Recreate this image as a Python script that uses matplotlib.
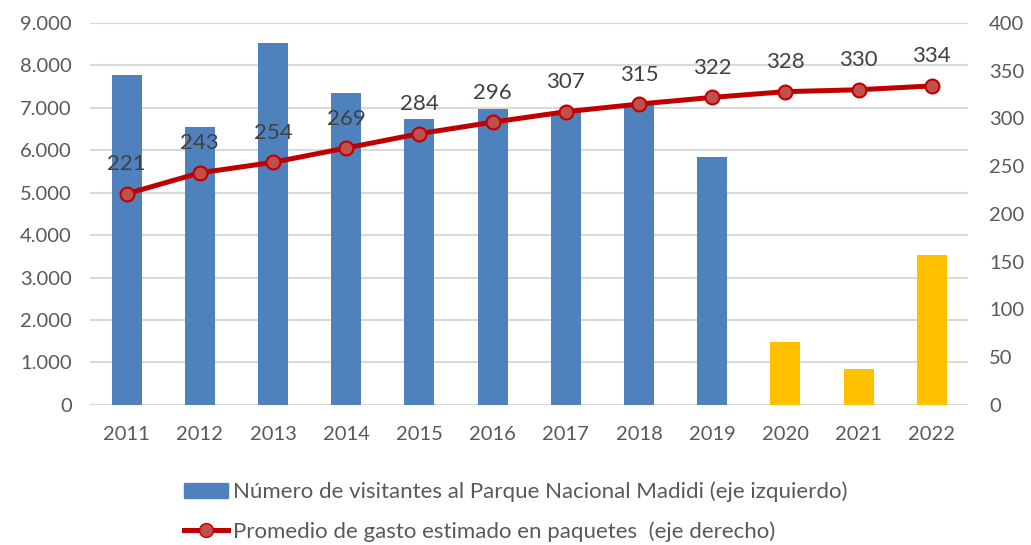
import numpy as np
import matplotlib
matplotlib.use('Agg')
import matplotlib.pyplot as plt
from matplotlib.patches import Patch
from matplotlib.lines import Line2D
from matplotlib.ticker import FuncFormatter

plt.rcParams['font.family'] = ['Lato', 'DejaVu Sans']

# data
years = ['2011', '2012', '2013', '2014', '2015', '2016',
         '2017', '2018', '2019', '2020', '2021', '2022']
visitors = [7770, 6550, 8530, 7340, 6730, 6960, 6900, 7100, 5845, 1485, 850, 3530]
spending = [221, 243, 254, 269, 284, 296, 307, 315, 322, 328, 330, 334]
bar_label = 'Número de visitantes al Parque Nacional Madidi (eje izquierdo)'
line_label = 'Promedio de gasto estimado en paquetes  (eje derecho)'

blue = '#4F81BD'
gold = '#FFC000'
red = '#C00000'
text_col = '#595959'

x = np.arange(len(years))
colors = [blue if int(y) < 2020 else gold for y in years]

fig = plt.figure(figsize=(10.31, 5.45), dpi=100)
ax = fig.add_axes([0.0873, 0.257, 0.852, 0.701])
ax2 = ax.twinx()

ax.bar(x, visitors, width=0.41, color=colors, zorder=2)
ax.set_ylim(0, 9000)
ax.set_yticks(np.arange(0, 9001, 1000))
ax.yaxis.set_major_formatter(FuncFormatter(lambda v, p: f'{int(v):,}'.replace(',', '.')))
ax.set_xlim(-0.5, len(years) - 0.5)
ax.set_xticks(x)
ax.set_xticklabels(years)
ax.grid(axis='y', color='#D9D9D9', lw=1.5, zorder=0)
ax.set_axisbelow(True)

ax2.plot(x, spending, color=red, lw=3.6, marker='o', markersize=10,
         markerfacecolor='#C0504D', markeredgecolor=red, markeredgewidth=1.5, zorder=3)
ax2.set_ylim(0, 400)
ax2.set_yticks(np.arange(0, 401, 50))
for xi, v in zip(x, spending):
    ax2.annotate(str(v), (xi, v), xytext=(0, 14), textcoords='offset points',
                 ha='center', va='bottom', fontsize=16, color='#404040')

for a in (ax, ax2):
    for s in a.spines.values():
        s.set_visible(False)
    a.tick_params(length=0, labelsize=14.5, colors=text_col)
ax.tick_params(axis='x', pad=15)
ax.tick_params(axis='y', pad=13)
ax2.tick_params(axis='y', pad=15)

handles = [Patch(color=blue),
           Line2D([0], [0], color=red, lw=3.6, marker='o', markersize=10,
                  markerfacecolor='#C0504D', markeredgecolor=red)]
leg = fig.legend(handles, [bar_label, line_label], loc='upper center',
                 bbox_to_anchor=(0.5, 0.153), frameon=False, fontsize=16,
                 handlelength=2.0, handletextpad=0.2, labelspacing=0.85,
                 labelcolor=text_col)

fig.savefig('out.png', dpi=100)
